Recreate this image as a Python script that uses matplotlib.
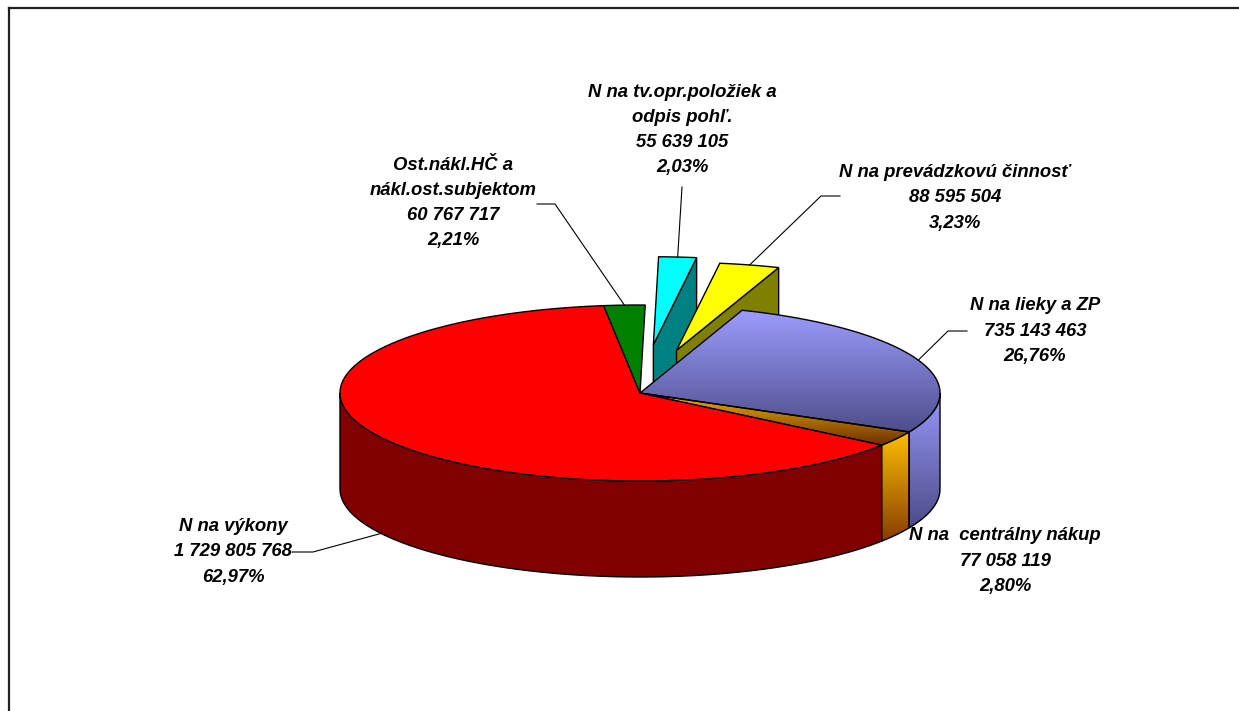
import numpy as np
import matplotlib
matplotlib.use("Agg")
import matplotlib.pyplot as plt
from matplotlib.patches import Polygon
from matplotlib.colors import LinearSegmentedColormap
from matplotlib import font_manager

# Data (clockwise from 12 o'clock)
labels = ["N na tv.opr.položiek a\nodpis pohľ.",
          "N na prevádzkovú činnosť",
          "N na lieky a ZP",
          "N na  centrálny nákup",
          "N na výkony",
          "Ost.nákl.HČ a\nnákl.ost.subjektom"]
values = [55639105, 88595504, 735143463, 77058119, 1729805768, 60767717]
pct_labels = ["2,03%", "3,23%", "26,76%", "2,80%", "62,97%", "2,21%"]
explode = [0.55, 0.5, 0, 0, 0, 0]

# colours: (top start, top end, side start, side end)
colors = [("#00FFFF", "#00FFFF", "#008080", "#008080"),
          ("#FFFF00", "#FFFF00", "#808000", "#808000"),
          ("#9C9CFF", "#4E4E8A", "#9898FA", "#4C4C88"),
          ("#F2B000", "#6E3000", "#FFC000", "#8A3C00"),
          ("#FF0000", "#FF0000", "#800000", "#800000"),
          ("#008000", "#008000", "#004000", "#004000")]

# pie geometry in pixel space
cx, cy = 640, 393
a, b = 300, 88
depth = 96
start_angle = 1.0

fams = [f.name for f in font_manager.fontManager.ttflist]
fam = "Liberation Sans Narrow" if "Liberation Sans Narrow" in fams else "Liberation Sans"
plt.rcParams['font.family'] = [fam, 'DejaVu Sans']

fig = plt.figure(figsize=(12.39, 7.11), dpi=100)
ax = fig.add_axes([0, 0, 1, 1])
ax.axis('off')


def pt(theta, r=1.0, dx=0.0, dy=0.0, down=0.0):
    t = np.radians(theta)
    return cx + a * r * np.sin(t) + dx, cy - b * r * np.cos(t) + dy + down


def fill(verts, c1, c2, z):
    verts = np.asarray(verts)
    poly = Polygon(verts, closed=True, facecolor='none', edgecolor='black', lw=1.0, zorder=z + 0.1)
    ax.add_patch(poly)
    if c1 == c2:
        poly.set_facecolor(c1)
        return
    cmap = LinearSegmentedColormap.from_list('g', [c1, c2])
    grad = np.linspace(0, 1, 256).reshape(-1, 1)
    im = ax.imshow(grad, cmap=cmap, aspect='auto', origin='upper', zorder=z,
                   extent=(verts[:, 0].min(), verts[:, 0].max(), verts[:, 1].max(), verts[:, 1].min()))
    im.set_clip_path(poly)


total = sum(values)
angles = start_angle + np.cumsum([0] + [360.0 * v / total for v in values])

anchors = []
for i, v in enumerate(values):
    t1, t2 = angles[i], angles[i + 1]
    mid = (t1 + t2) / 2
    e = explode[i]
    dx = a * e * np.sin(np.radians(mid))
    dy = -b * e * np.cos(np.radians(mid))
    base = 1 if e > 0 else 3
    # radial face on the clockwise edge (visible for the exploded slices)
    if e > 0:
        p0 = (cx + dx, cy + dy)
        p1 = pt(t2, dx=dx, dy=dy)
        fill([p0, p1, (p1[0], p1[1] + depth), (p0[0], p0[1] + depth)],
             colors[i][2], colors[i][3], base + i * 0.01)
    # outer side face (front half only)
    s1, s2 = max(t1, 90), min(t2, 270)
    if s2 > s1:
        th = np.linspace(s1, s2, 80)
        top = [pt(t, dx=dx, dy=dy) for t in th]
        bot = [pt(t, dx=dx, dy=dy, down=depth) for t in th[::-1]]
        fill(top + bot, colors[i][2], colors[i][3], base + 0.2)
    # top face
    th = np.linspace(t1, t2, max(int((t2 - t1) * 2), 4))
    fill([(cx + dx, cy + dy)] + [pt(t, dx=dx, dy=dy) for t in th],
         colors[i][0], colors[i][1], base + 0.5 + (0.3 if e > 0 else 0))
    down = depth if 90 < mid < 270 else 0
    anchors.append(pt(mid, dx=dx, dy=dy, down=down))

# label layout: text centre, leader start, elbow
text_pos = [(682, 130), (955, 198), (1035, 331), (1005, 561), (233, 552), (453, 203)]
leader = [((682, 187), None), ((840, 196), (821, 196)), ((967, 331), (948, 331)),
          None, ((292, 552), (313, 552)), ((537, 204), (555, 204))]

for i, v in enumerate(values):
    txt = labels[i] + "\n" + f"{v:,}".replace(",", " ") + "\n" + pct_labels[i]
    ax.text(text_pos[i][0], text_pos[i][1], txt, ha='center', va='center',
            fontsize=13.3, fontweight='bold', fontstyle='italic', linespacing=1.62, zorder=10)
    if leader[i] is not None:
        start, elbow = leader[i]
        pts = [start] + ([elbow] if elbow else []) + [anchors[i]]
        ax.plot([p[0] for p in pts], [p[1] for p in pts], color='black', lw=0.8, zorder=9)

# chart-area frame (top and left edges visible)
ax.plot([9, 1239], [8, 8], color='#202020', lw=1.6, zorder=11, clip_on=False)
ax.plot([9, 9], [8, 711], color='#202020', lw=1.6, zorder=11, clip_on=False)

ax.set_xlim(0, 1239)
ax.set_ylim(711, 0)
fig.savefig("out.png", dpi=100)
